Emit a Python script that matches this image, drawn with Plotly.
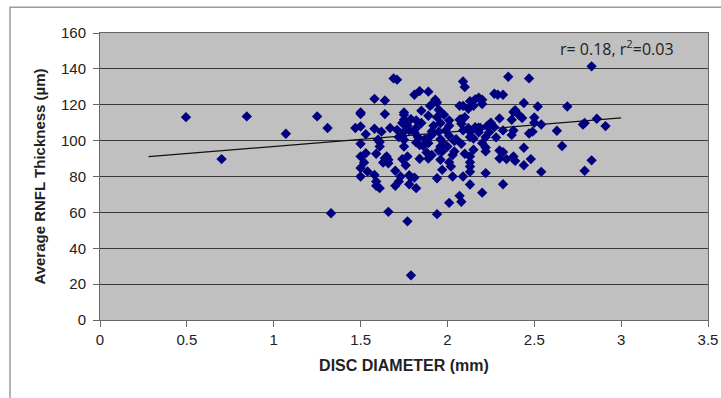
import plotly.graph_objects as go

disc_diameter = [
    0.495, 0.70, 0.845, 1.07, 1.25, 1.31, 1.33, 1.79, 1.77, 1.66, 1.94, 2.01, 2.08, 2.07, 2.20, 2.32, 2.13,
    2.83, 2.86, 2.91, 2.78, 2.79, 2.83, 2.79, 2.69, 2.63, 2.66, 2.54, 2.54, 2.50, 2.52, 2.47, 2.35, 2.48,
    2.44, 2.44, 2.44, 2.47, 2.49, 2.50, 2.43, 2.41, 2.39, 2.38, 2.37, 2.38, 2.37, 2.38, 2.39, 2.34, 2.30,
    2.30, 2.32, 2.32, 2.32, 2.29, 2.27, 2.30, 2.27, 2.25, 2.28, 2.24, 2.22, 2.22, 2.22, 2.22, 2.20, 2.20,
    2.18, 2.16, 2.15, 2.13, 2.12, 2.10, 2.09, 2.10, 2.09, 2.07, 2.08, 2.07, 2.12, 2.13, 2.16, 2.19, 2.18,
    2.15, 2.13, 2.15, 2.13, 2.13, 2.13, 2.13, 2.10, 2.09, 2.03, 2.02, 2.01, 2.04, 2.04, 2.05, 2.01, 1.99,
    2.01, 2.01, 1.98, 1.96, 1.95, 1.96, 1.98, 1.96, 1.95, 1.97, 1.96, 1.97, 1.94, 1.91, 1.89, 1.88, 1.84,
    1.89, 1.86, 1.84, 1.82, 1.83, 1.81, 1.82, 1.85, 1.82, 1.79, 1.85, 1.89, 1.90, 1.93, 1.89, 1.84, 1.81,
    1.91, 1.94, 1.95, 1.94, 1.92, 1.91, 1.92, 1.90, 1.87, 1.78, 1.77, 1.75, 1.75, 1.75, 1.75, 1.74, 1.74,
    1.75, 1.75, 1.77, 1.74, 1.76, 1.78, 1.79, 1.81, 1.82, 1.78, 1.73, 1.72, 1.70, 1.70, 1.72, 1.71, 1.67,
    1.69, 1.71, 1.66, 1.65, 1.63, 1.66, 1.64, 1.64, 1.64, 1.58, 1.58, 1.60, 1.61, 1.61, 1.62, 1.59, 1.58,
    1.59, 1.59, 1.61, 1.54, 1.50, 1.50, 1.52, 1.50, 1.53, 1.50, 1.53, 1.50, 1.47, 1.50, 1.50,
    2.00, 2.08, 2.09, 2.18, 2.23, 2.08, 2.20, 2.03,
]
rnfl_thickness = [
    113.1, 89.7, 113.5, 103.8, 113.5, 107.0, 59.5, 24.9, 55.0, 60.3, 59.0, 65.3, 65.9, 69.2, 71.0, 75.7, 75.5,
    141.4, 112.2, 108.1, 109.0, 109.8, 89.0, 83.2, 119.0, 105.5, 97.0, 109.0, 82.6, 112.9, 119.0, 134.7, 135.6, 89.7,
    86.3, 96.0, 121.0, 104.0, 105.0, 110.0, 112.6, 114.4, 117.0, 116.0, 111.6, 105.7, 103.2, 91.2, 88.7, 89.7, 90.0,
    94.5, 93.6, 105.7, 125.6, 125.6, 126.1, 112.4, 107.5, 110.0, 101.8, 104.6, 94.0, 96.2, 81.9, 102.0, 122.8, 120.4,
    124.0, 123.0, 119.4, 122.0, 117.8, 113.0, 133.0, 129.9, 119.4, 119.4, 112.0, 111.6, 107.0, 105.0, 107.5, 107.0, 104.6,
    101.2, 102.0, 94.9, 91.2, 88.0, 85.6, 82.6, 92.7, 80.0, 80.0, 85.6, 88.0, 94.0, 99.7, 100.8, 102.7, 105.7,
    108.3, 111.3, 114.4, 109.8, 105.0, 100.8, 98.2, 96.7, 94.5, 94.0, 89.3, 83.7, 79.0, 92.0, 90.0, 93.4, 89.9,
    98.6, 97.1, 97.5, 99.0, 102.0, 104.6, 107.0, 109.8, 111.3, 112.0, 116.7, 113.9, 119.4, 122.8, 127.3, 127.6, 125.6,
    120.2, 121.3, 117.2, 113.1, 108.3, 105.1, 104.2, 102.3, 100.8, 105.7, 108.3, 105.0, 114.4, 115.7, 111.6, 109.8, 102.3,
    100.5, 96.7, 91.2, 89.7, 86.3, 80.7, 79.4, 79.4, 73.5, 75.7, 80.0, 77.2, 74.8, 83.2, 102.0, 106.0, 107.0,
    134.7, 134.0, 89.3, 91.2, 87.8, 87.4, 90.2, 114.8, 122.4, 123.3, 106.6, 100.5, 99.2, 96.7, 105.0, 92.7, 80.9,
    77.2, 74.8, 73.5, 82.8, 84.7, 80.0, 87.8, 91.2, 93.0, 98.2, 103.6, 107.9, 107.0, 114.8, 115.7,
    96.7, 109.4, 105.7, 107.2, 108.3, 98.2, 98.6, 92.0,
]

# Trend line
trend_range = [0.28, 3.0]
trend_intercept = 88.8
trend_slope = 7.95
trend_y = [trend_intercept + trend_slope * x for x in trend_range]

x_ticks = [0, 0.5, 1, 1.5, 2, 2.5, 3, 3.5]
x_tick_labels = ["0", "0.5", "1", "1.5", "2", "2.5", "3", "3.5"]
y_ticks = [0, 20, 40, 60, 80, 100, 120, 140, 160]

sans = "Liberation Sans, Arial, sans-serif"

fig = go.Figure()
fig.add_trace(go.Scatter(
    x=trend_range, y=trend_y, mode="lines",
    line=dict(color="#111111", width=1.2), hoverinfo="skip", showlegend=False,
))
fig.add_trace(go.Scatter(
    x=disc_diameter, y=rnfl_thickness, mode="markers",
    marker=dict(symbol="diamond", size=8, color="#000080", line=dict(width=0)),
    showlegend=False,
))

fig.update_layout(
    width=721, height=398,
    margin=dict(l=100, r=13, t=33, b=78),
    paper_bgcolor="white",
    plot_bgcolor="#c0c0c0",
    xaxis=dict(
        range=[0, 3.5], tickvals=x_ticks, ticktext=x_tick_labels,
        showgrid=False, zeroline=False, automargin=False,
        showline=True, linecolor="#666666", linewidth=1, mirror=True,
        ticks="outside", ticklen=6, tickcolor="#666666",
        tickfont=dict(family=sans, size=15, color="#222222"),
        title=dict(text="<b>DISC DIAMETER (mm)</b>", font=dict(family=sans, size=16, color="#222222"), standoff=12),
    ),
    yaxis=dict(
        range=[0, 160], tickvals=y_ticks,
        showgrid=True, gridcolor="#3a3a3a", gridwidth=1, zeroline=False, automargin=False,
        showline=True, linecolor="#666666", linewidth=1, mirror=True,
        ticks="outside", ticklen=6, tickcolor="#666666", ticklabelstandoff=4,
        tickfont=dict(family=sans, size=15, color="#222222"),
        title=dict(text="<b>Average RNFL Thickness (µm)</b>", font=dict(family=sans, size=15, color="#222222"), standoff=11),
    ),
    annotations=[dict(
        x=0.948, y=0.995, xref="paper", yref="paper", xanchor="right", yanchor="top",
        text="r= 0.18, r<sup>2</sup>=0.03", showarrow=False,
        font=dict(family="Open Sans, sans-serif", size=16, color="#222222"),
    )],
    shapes=[dict(
        type="rect", xref="paper", yref="paper",
        x0=-0.148, x1=1.03, y0=-0.29, y1=1.09,
        line=dict(color="#9a9a9a", width=1.5), fillcolor="rgba(0,0,0,0)", layer="below",
    )],
)

fig.write_html(
    "out.html",
    config={"displayModeBar": False},
    post_script="document.body.style.margin='0';document.body.style.overflow='hidden';",
)
